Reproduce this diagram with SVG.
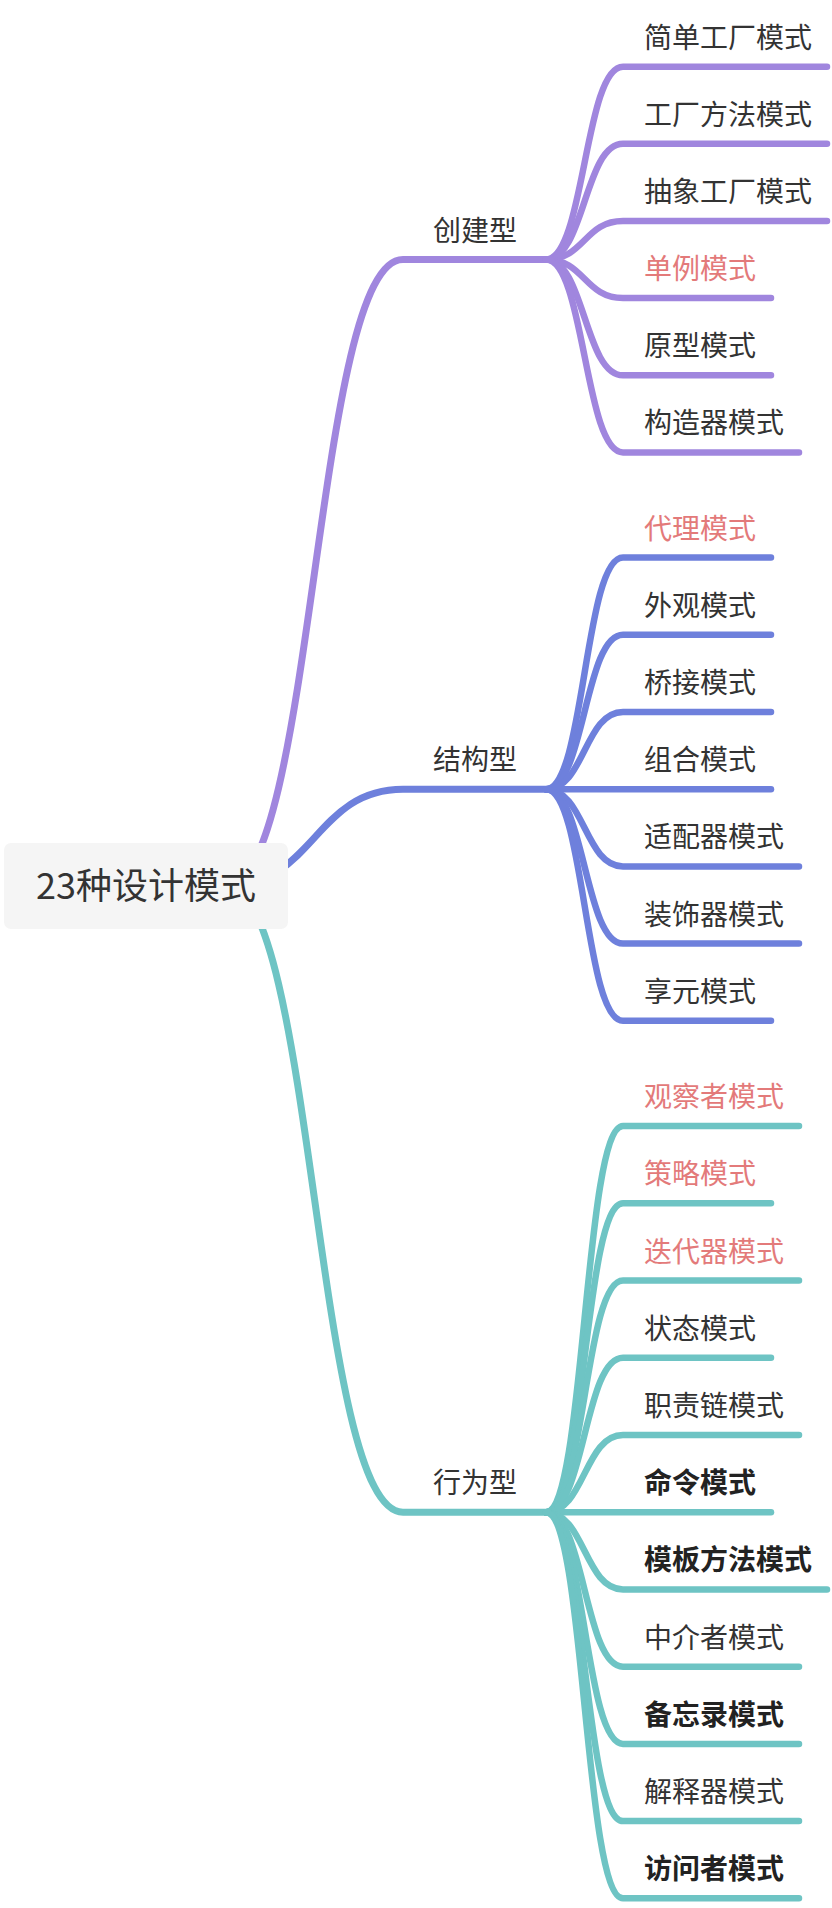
<svg xmlns="http://www.w3.org/2000/svg" width="832" height="1908" viewBox="0 0 832 1908">
<style>
.ln{fill:none;stroke-linecap:round;stroke-linejoin:round}
.l1{stroke-width:7}
.l2{stroke-width:6.5}
.p{stroke:#a086de}
.b{stroke:#6e80dc}
.t{stroke:#6ec4c4}
text{font-family:"Noto Sans CJK SC","Noto Sans",sans-serif;fill:#333333}
.root{font-size:36px}
.mid{font-size:28px}
.leaf{font-size:28px}
.red{fill:#e37a7a}
.bold{font-weight:bold;fill:#222222}
</style>
<rect width="832" height="1908" fill="#ffffff"/>
<g id="connectors">
  <path class="ln l1 p" d="M226 886 C314.5 886 314.5 259.5 403 259.5 L546 259.5"/>
  <path class="ln l1 b" d="M226 886 C314.5 886 314.5 789.2 403 789.2 L546 789.2"/>
  <path class="ln l1 t" d="M226 886 C314.5 886 314.5 1512.2 403 1512.2 L546 1512.2"/>
  <!-- creational -->
  <path class="ln l2 p" d="M546 259.5 C584.5 259.5 584.5 66.7 623 66.7 L827 66.7"/>
  <path class="ln l2 p" d="M546 259.5 C584.5 259.5 584.5 143.8 623 143.8 L827 143.8"/>
  <path class="ln l2 p" d="M546 259.5 C584.5 259.5 584.5 221 623 221 L827 221"/>
  <path class="ln l2 p" d="M546 259.5 C584.5 259.5 584.5 298.1 623 298.1 L771 298.1"/>
  <path class="ln l2 p" d="M546 259.5 C584.5 259.5 584.5 375.3 623 375.3 L771 375.3"/>
  <path class="ln l2 p" d="M546 259.5 C584.5 259.5 584.5 452.4 623 452.4 L799 452.4"/>
  <!-- structural -->
  <path class="ln l2 b" d="M546 789.2 C584.5 789.2 584.5 557.5 623 557.5 L771 557.5"/>
  <path class="ln l2 b" d="M546 789.2 C584.5 789.2 584.5 634.7 623 634.7 L771 634.7"/>
  <path class="ln l2 b" d="M546 789.2 C584.5 789.2 584.5 711.9 623 711.9 L771 711.9"/>
  <path class="ln l2 b" d="M546 789.2 L771 789.2"/>
  <path class="ln l2 b" d="M546 789.2 C584.5 789.2 584.5 866.4 623 866.4 L799 866.4"/>
  <path class="ln l2 b" d="M546 789.2 C584.5 789.2 584.5 943.6 623 943.6 L799 943.6"/>
  <path class="ln l2 b" d="M546 789.2 C584.5 789.2 584.5 1020.8 623 1020.8 L771 1020.8"/>
  <!-- behavioral -->
  <path class="ln l2 t" d="M546 1512.2 C584.5 1512.2 584.5 1126 623 1126 L799 1126"/>
  <path class="ln l2 t" d="M546 1512.2 C584.5 1512.2 584.5 1203.3 623 1203.3 L771 1203.3"/>
  <path class="ln l2 t" d="M546 1512.2 C584.5 1512.2 584.5 1280.5 623 1280.5 L799 1280.5"/>
  <path class="ln l2 t" d="M546 1512.2 C584.5 1512.2 584.5 1357.7 623 1357.7 L771 1357.7"/>
  <path class="ln l2 t" d="M546 1512.2 C584.5 1512.2 584.5 1435 623 1435 L799 1435"/>
  <path class="ln l2 t" d="M546 1512.2 L771 1512.2"/>
  <path class="ln l2 t" d="M546 1512.2 C584.5 1512.2 584.5 1589.4 623 1589.4 L827 1589.4"/>
  <path class="ln l2 t" d="M546 1512.2 C584.5 1512.2 584.5 1666.7 623 1666.7 L799 1666.7"/>
  <path class="ln l2 t" d="M546 1512.2 C584.5 1512.2 584.5 1743.9 623 1743.9 L799 1743.9"/>
  <path class="ln l2 t" d="M546 1512.2 C584.5 1512.2 584.5 1821.1 623 1821.1 L799 1821.1"/>
  <path class="ln l2 t" d="M546 1512.2 C584.5 1512.2 584.5 1898.3 623 1898.3 L799 1898.3"/>
</g>
<g id="root">
  <rect x="4" y="843" width="284" height="86" rx="7" fill="#f5f5f5"/>
  <text class="root" x="146" y="899" text-anchor="middle">23种设计模式</text>
</g>
<g id="creational"><text class="mid" x="433" y="240.5">创建型</text></g>
<g id="structural"><text class="mid" x="433" y="770.2">结构型</text></g>
<g id="behavioral"><text class="mid" x="433" y="1493.2">行为型</text></g>
<g id="c1"><text class="leaf" x="644" y="47.7">简单工厂模式</text></g>
<g id="c2"><text class="leaf" x="644" y="124.8">工厂方法模式</text></g>
<g id="c3"><text class="leaf" x="644" y="202">抽象工厂模式</text></g>
<g id="c4"><text class="leaf red" x="644" y="279.1">单例模式</text></g>
<g id="c5"><text class="leaf" x="644" y="356.3">原型模式</text></g>
<g id="c6"><text class="leaf" x="644" y="433.4">构造器模式</text></g>
<g id="s1"><text class="leaf red" x="644" y="538.5">代理模式</text></g>
<g id="s2"><text class="leaf" x="644" y="615.7">外观模式</text></g>
<g id="s3"><text class="leaf" x="644" y="692.9">桥接模式</text></g>
<g id="s4"><text class="leaf" x="644" y="770.2">组合模式</text></g>
<g id="s5"><text class="leaf" x="644" y="847.4">适配器模式</text></g>
<g id="s6"><text class="leaf" x="644" y="924.6">装饰器模式</text></g>
<g id="s7"><text class="leaf" x="644" y="1001.8">享元模式</text></g>
<g id="b1"><text class="leaf red" x="644" y="1107">观察者模式</text></g>
<g id="b2"><text class="leaf red" x="644" y="1184.3">策略模式</text></g>
<g id="b3"><text class="leaf red" x="644" y="1261.5">迭代器模式</text></g>
<g id="b4"><text class="leaf" x="644" y="1338.7">状态模式</text></g>
<g id="b5"><text class="leaf" x="644" y="1416">职责链模式</text></g>
<g id="b6"><text class="leaf bold" x="644" y="1493.2">命令模式</text></g>
<g id="b7"><text class="leaf bold" x="644" y="1570.4">模板方法模式</text></g>
<g id="b8"><text class="leaf" x="644" y="1647.7">中介者模式</text></g>
<g id="b9"><text class="leaf bold" x="644" y="1724.9">备忘录模式</text></g>
<g id="b10"><text class="leaf" x="644" y="1802.1">解释器模式</text></g>
<g id="b11"><text class="leaf bold" x="644" y="1879.3">访问者模式</text></g>
</svg>
